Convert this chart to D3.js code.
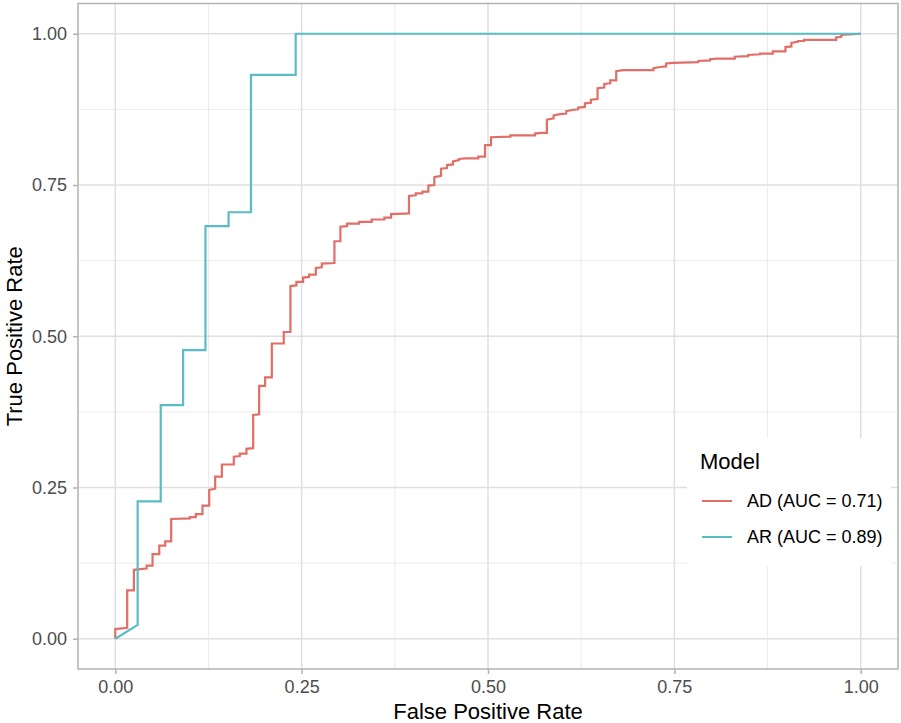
<!DOCTYPE html>
<html>
<head>
<meta charset="utf-8">
<script src="https://cdn.jsdelivr.net/npm/d3@7"></script>
<style>
  body { margin: 0; background: #fff; }
  text { font-family: "Liberation Sans", Arial, Helvetica, sans-serif; }
</style>
</head>
<body>
<script>
// ROC points: [false positive rate, true positive rate]
const models = ["AD", "AR"];
const aucValues = [0.71, 0.89];
const xTicks = [0, 0.25, 0.5, 0.75, 1];
const yTicks = [0, 0.25, 0.5, 0.75, 1];
const minorTicks = [0.125, 0.375, 0.625, 0.875];

const arPoints = [
    [0, 0], [0.030, 0.023], [0.030, 0.227], [0.061, 0.227], [0.061, 0.386],
    [0.091, 0.386], [0.091, 0.477], [0.121, 0.477], [0.121, 0.682], [0.152, 0.682],
    [0.152, 0.705], [0.182, 0.705], [0.182, 0.932], [0.242, 0.932], [0.242, 1],
    [1, 1]
];

const adPoints = [
    [0, 0], [0, 0.016], [0.016, 0.018], [0.016, 0.080], [0.025, 0.080],
    [0.025, 0.114], [0.034, 0.115], [0.042, 0.116], [0.042, 0.121], [0.050, 0.121],
    [0.050, 0.140], [0.059, 0.140], [0.059, 0.154], [0.067, 0.154], [0.067, 0.161],
    [0.075, 0.161], [0.075, 0.198], [0.100, 0.199], [0.100, 0.201], [0.108, 0.201],
    [0.108, 0.206], [0.117, 0.206], [0.117, 0.220], [0.126, 0.220], [0.126, 0.246],
    [0.134, 0.248], [0.134, 0.268], [0.143, 0.268], [0.143, 0.288], [0.159, 0.288],
    [0.159, 0.301], [0.167, 0.302], [0.167, 0.306], [0.176, 0.306], [0.176, 0.314],
    [0.185, 0.315], [0.185, 0.370], [0.193, 0.371], [0.193, 0.418], [0.201, 0.418],
    [0.201, 0.432], [0.210, 0.432], [0.210, 0.488], [0.226, 0.488], [0.226, 0.507],
    [0.235, 0.507], [0.235, 0.583], [0.243, 0.584], [0.243, 0.590], [0.252, 0.590],
    [0.252, 0.597], [0.260, 0.598], [0.260, 0.602], [0.269, 0.602], [0.269, 0.613],
    [0.277, 0.614], [0.277, 0.620], [0.294, 0.621], [0.294, 0.657], [0.302, 0.657],
    [0.302, 0.681], [0.311, 0.682], [0.311, 0.686], [0.327, 0.686], [0.327, 0.689],
    [0.344, 0.689], [0.344, 0.693], [0.361, 0.693], [0.361, 0.696], [0.370, 0.696],
    [0.370, 0.702], [0.394, 0.703], [0.394, 0.732], [0.403, 0.733], [0.403, 0.736],
    [0.412, 0.736], [0.412, 0.739], [0.420, 0.739], [0.420, 0.749], [0.428, 0.750],
    [0.428, 0.763], [0.437, 0.765], [0.437, 0.777], [0.445, 0.778], [0.445, 0.783],
    [0.453, 0.784], [0.453, 0.789], [0.461, 0.791], [0.461, 0.793], [0.470, 0.794],
    [0.487, 0.794], [0.487, 0.797], [0.496, 0.797], [0.496, 0.816], [0.504, 0.816],
    [0.504, 0.829], [0.530, 0.830], [0.530, 0.832], [0.563, 0.832], [0.563, 0.835],
    [0.572, 0.836], [0.579, 0.836], [0.579, 0.858], [0.588, 0.860], [0.588, 0.865],
    [0.597, 0.867], [0.605, 0.868], [0.605, 0.872], [0.613, 0.874], [0.621, 0.875],
    [0.621, 0.878], [0.630, 0.879], [0.630, 0.885], [0.638, 0.886], [0.638, 0.891],
    [0.647, 0.892], [0.647, 0.910], [0.656, 0.911], [0.656, 0.917], [0.664, 0.918],
    [0.664, 0.923], [0.672, 0.923], [0.672, 0.938], [0.681, 0.940], [0.722, 0.940],
    [0.722, 0.943], [0.731, 0.945], [0.739, 0.946], [0.739, 0.951], [0.748, 0.952],
    [0.782, 0.953], [0.782, 0.955], [0.798, 0.956], [0.798, 0.958], [0.807, 0.959],
    [0.831, 0.959], [0.831, 0.962], [0.849, 0.963], [0.849, 0.965], [0.865, 0.966],
    [0.865, 0.967], [0.882, 0.967], [0.882, 0.971], [0.899, 0.971], [0.899, 0.978],
    [0.907, 0.979], [0.907, 0.985], [0.916, 0.987], [0.916, 0.988], [0.924, 0.988],
    [0.924, 0.990], [0.967, 0.990], [0.967, 0.994], [0.974, 0.995], [0.974, 0.998],
    [1, 1]
];

const seriesColors = ["#E16E67", "#5BBDC4"];

const width = 901;
const height = 723;
const margin = { top: 3.5, right: 3, bottom: 54, left: 78 };

const svg = d3.select("body")
    .append("svg")
    .attr("width", width)
    .attr("height", height);

const x = d3.scaleLinear()
    .domain([-0.05, 1.05])
    .range([margin.left, width - margin.right]);

const y = d3.scaleLinear()
    .domain([-0.05, 1.05])
    .range([height - margin.bottom, margin.top]);

const fmt = d3.format(".2f");

// grid, minor first then major
const grid = svg.append("g");
const gridLines = (vals, vertical, colour, w) => {
    grid.append("g")
        .selectAll("line")
        .data(vals)
        .enter()
        .append("line")
        .attr("x1", d => vertical ? x(d) : x.range()[0])
        .attr("x2", d => vertical ? x(d) : x.range()[1])
        .attr("y1", d => vertical ? y.range()[0] : y(d))
        .attr("y2", d => vertical ? y.range()[1] : y(d))
        .attr("stroke", colour)
        .attr("stroke-width", w);
};
gridLines(minorTicks, true, "#ececec", 1);
gridLines(minorTicks, false, "#ececec", 1);
gridLines(xTicks, true, "#e0e0e0", 1.5);
gridLines(yTicks, false, "#e0e0e0", 1.5);

const line = d3.line()
    .x(d => x(d[0]))
    .y(d => y(d[1]));

const curves = svg.append("g");
[adPoints, arPoints].forEach((pts, i) => {
    curves.append("path")
        .datum(pts)
        .attr("d", line)
        .attr("fill", "none")
        .attr("stroke", seriesColors[i])
        .attr("stroke-width", 2.2);
});

// panel border
svg.append("rect")
    .attr("x", x.range()[0])
    .attr("y", y.range()[1])
    .attr("width", x.range()[1] - x.range()[0])
    .attr("height", y.range()[0] - y.range()[1])
    .attr("fill", "none")
    .attr("stroke", "#b3b3b3")
    .attr("stroke-width", 1.5);

// axes
const xAxis = d3.axisBottom(x)
    .tickValues(xTicks)
    .tickFormat(fmt)
    .tickSize(5)
    .tickPadding(6);
const yAxis = d3.axisLeft(y)
    .tickValues(yTicks)
    .tickFormat(fmt)
    .tickSize(5)
    .tickPadding(6);

const gx = svg.append("g")
    .attr("transform", `translate(0,${y.range()[0]})`)
    .call(xAxis);
const gy = svg.append("g")
    .attr("transform", `translate(${x.range()[0]},0)`)
    .call(yAxis);

[gx, gy].forEach(g => {
    g.select(".domain").remove();
    g.selectAll(".tick line").attr("stroke", "#b3b3b3").attr("stroke-width", 1.5);
    g.selectAll(".tick text")
        .attr("fill", "#4d4d4d")
        .style("font-size", "18px")
        .style("font-family", "'Liberation Sans', Arial, sans-serif");
});

svg.append("text")
    .attr("x", (x.range()[0] + x.range()[1]) / 2)
    .attr("y", 719)
    .attr("text-anchor", "middle")
    .style("font-size", "22px")
    .attr("fill", "#000")
    .text("False Positive Rate");

svg.append("text")
    .attr("transform", `translate(22,${(y.range()[0] + y.range()[1]) / 2}) rotate(-90)`)
    .attr("text-anchor", "middle")
    .style("font-size", "22px")
    .attr("fill", "#000")
    .text("True Positive Rate");

// legend
const legend = svg.append("g").attr("transform", "translate(687,438)");
legend.append("rect")
    .attr("width", 204)
    .attr("height", 128)
    .attr("fill", "#fff");
legend.append("text")
    .attr("x", 13)
    .attr("y", 31)
    .style("font-size", "22px")
    .attr("fill", "#000")
    .text("Model");

const items = legend.selectAll(".item")
    .data(models)
    .enter()
    .append("g")
    .attr("transform", (d, i) => `translate(0,${63 + i * 36})`);
items.append("line")
    .attr("x1", 15).attr("x2", 45)
    .attr("stroke", (d, i) => seriesColors[i])
    .attr("stroke-width", 2);
items.append("text")
    .attr("x", 60)
    .attr("dy", "0.36em")
    .style("font-size", "18px")
    .attr("fill", "#000")
    .text((d, i) => `${d} (AUC = ${fmt(aucValues[i])})`);
</script>
</body>
</html>
